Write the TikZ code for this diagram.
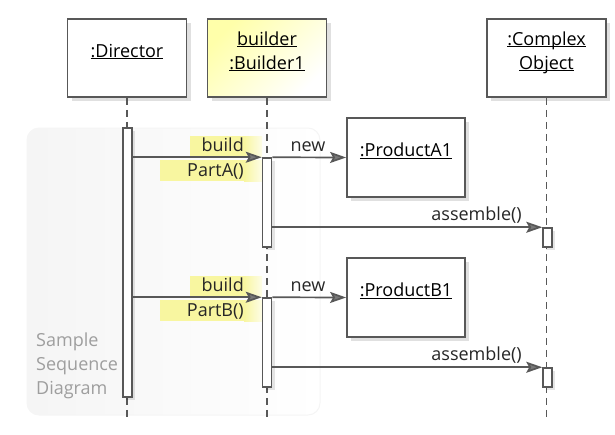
\documentclass[tikz,border=0pt]{standalone}
\usepackage{fontspec}
\setmainfont{Open Sans}
\usetikzlibrary{arrows.meta,shadows}
\definecolor{ln}{RGB}{88,88,88}
\definecolor{hl}{RGB}{248,246,160}
\definecolor{byel}{RGB}{255,255,170}
\newcommand\ulx[1]{\underline{\smash{#1}}}
\begin{document}
\begin{tikzpicture}[x=1pt,y=-1pt,
  font=\fontsize{18}{24}\selectfont,
  objbox/.style={draw=ln, line width=1.8pt, fill=white, align=center, inner sep=0pt,
    drop shadow={shadow xshift=4pt, shadow yshift=-4pt, opacity=.12, fill=black}},
  act/.style={draw=ln, line width=1.5pt, fill=white, minimum width=9pt, inner sep=0pt,
    drop shadow={shadow xshift=3pt, shadow yshift=-3pt, opacity=.10, fill=black}},
  life/.style={draw=ln, line width=1.6pt, dash pattern=on 7pt off 5pt},
  msg/.style={draw=ln, line width=1.7pt, -{Stealth[length=16pt,width=11pt,inset=3pt,fill=ln!80]}},
  lbl/.style={inner sep=0pt, text=black!85},
  hlfill/.style={fill=hl},
  hlfade/.style={left color=hl, right color=hl!25},
  note/.style={inner sep=0pt, align=left, text=black!38}]
\useasboundingbox (0,0) rectangle (615,434);
% background panel
\shade[left color=black!4, right color=white, draw=black!4, line width=1pt, rounded corners=12pt]
  (27,128) rectangle (320,415);
\node[note, anchor=west] (sample) at (36,366) {Sample\\Sequence\\Diagram};
% label highlights
\fill[hlfill] (190,136) rectangle (244,156);
\shade[hlfade] (244,136) rectangle (262,156);
\fill[hlfill] (160,160) rectangle (244,181);
\shade[hlfade] (244,160) rectangle (262,181);
\fill[hlfill] (190,276) rectangle (244,296);
\shade[hlfade] (244,276) rectangle (262,296);
\fill[hlfill] (160,300) rectangle (244,321);
\shade[hlfade] (244,300) rectangle (262,321);
% objects
\node[objbox, minimum width=119pt, minimum height=78pt] (director) at (127,58) {\ulx{:Director}};
\node[objbox, top color=byel, bottom color=white, shading angle=45,
  minimum width=119pt, minimum height=78pt] (builder) at (267,58) {\ulx{builder}\\\ulx{:Builder1}};
\node[objbox, minimum width=119pt, minimum height=78pt] (complex) at (546.5,58) {\ulx{:Complex}\\\ulx{Object}};
% lifelines
\coordinate (endD) at (127,418);
\coordinate (endB) at (267,418);
\coordinate (endC) at (546.5,418);
\draw[life] (director.south) -- (endD);
\draw[life] (builder.south) -- (endB);
\draw[life] (complex.south) -- (endC);
% products
\node[objbox, minimum width=118pt, minimum height=79pt] (prodA) at (406,157.5) {\ulx{:ProductA1}};
\node[objbox, minimum width=118pt, minimum height=79pt] (prodB) at (406,297.5) {\ulx{:ProductB1}};
% activations
\node[act, minimum height=269pt] (actD) at (127.5,262.5) {};
\node[act, minimum height=89pt] (actB1) at (267,202.5) {};
\node[act, minimum height=89pt] (actB2) at (267,342.5) {};
\node[act, minimum height=19pt] (actC1) at (547.5,237.5) {};
\node[act, minimum height=19pt] (actC2) at (547.5,377.5) {};
% messages
\draw[msg] (actD.east |- actB1.north) -- (actB1.north west);
\draw[msg] (actB1.north east) -- (prodA.west);
\draw[msg] (actB1.east |- actC1.north) -- (actC1.north west);
\draw[msg] (actD.east |- actB2.north) -- (actB2.north west);
\draw[msg] (actB2.north east) -- (prodB.west);
\draw[msg] (actB2.east |- actC2.north) -- (actC2.north west);
% labels
\node[lbl, anchor=east] (lbA) at (244,145) {build};
\node[lbl, anchor=east] (lpA) at (244,171) {PartA()};
\node[lbl] (lnA) at (308,147) {new};
\node[lbl, anchor=east] (laA) at (522,215.5) {assemble()};
\node[lbl, anchor=east] (lbB) at (244,285) {build};
\node[lbl, anchor=east] (lpB) at (244,311) {PartB()};
\node[lbl] (lnB) at (308,287) {new};
\node[lbl, anchor=east] (laB) at (522,355.5) {assemble()};
\end{tikzpicture}
\end{document}
